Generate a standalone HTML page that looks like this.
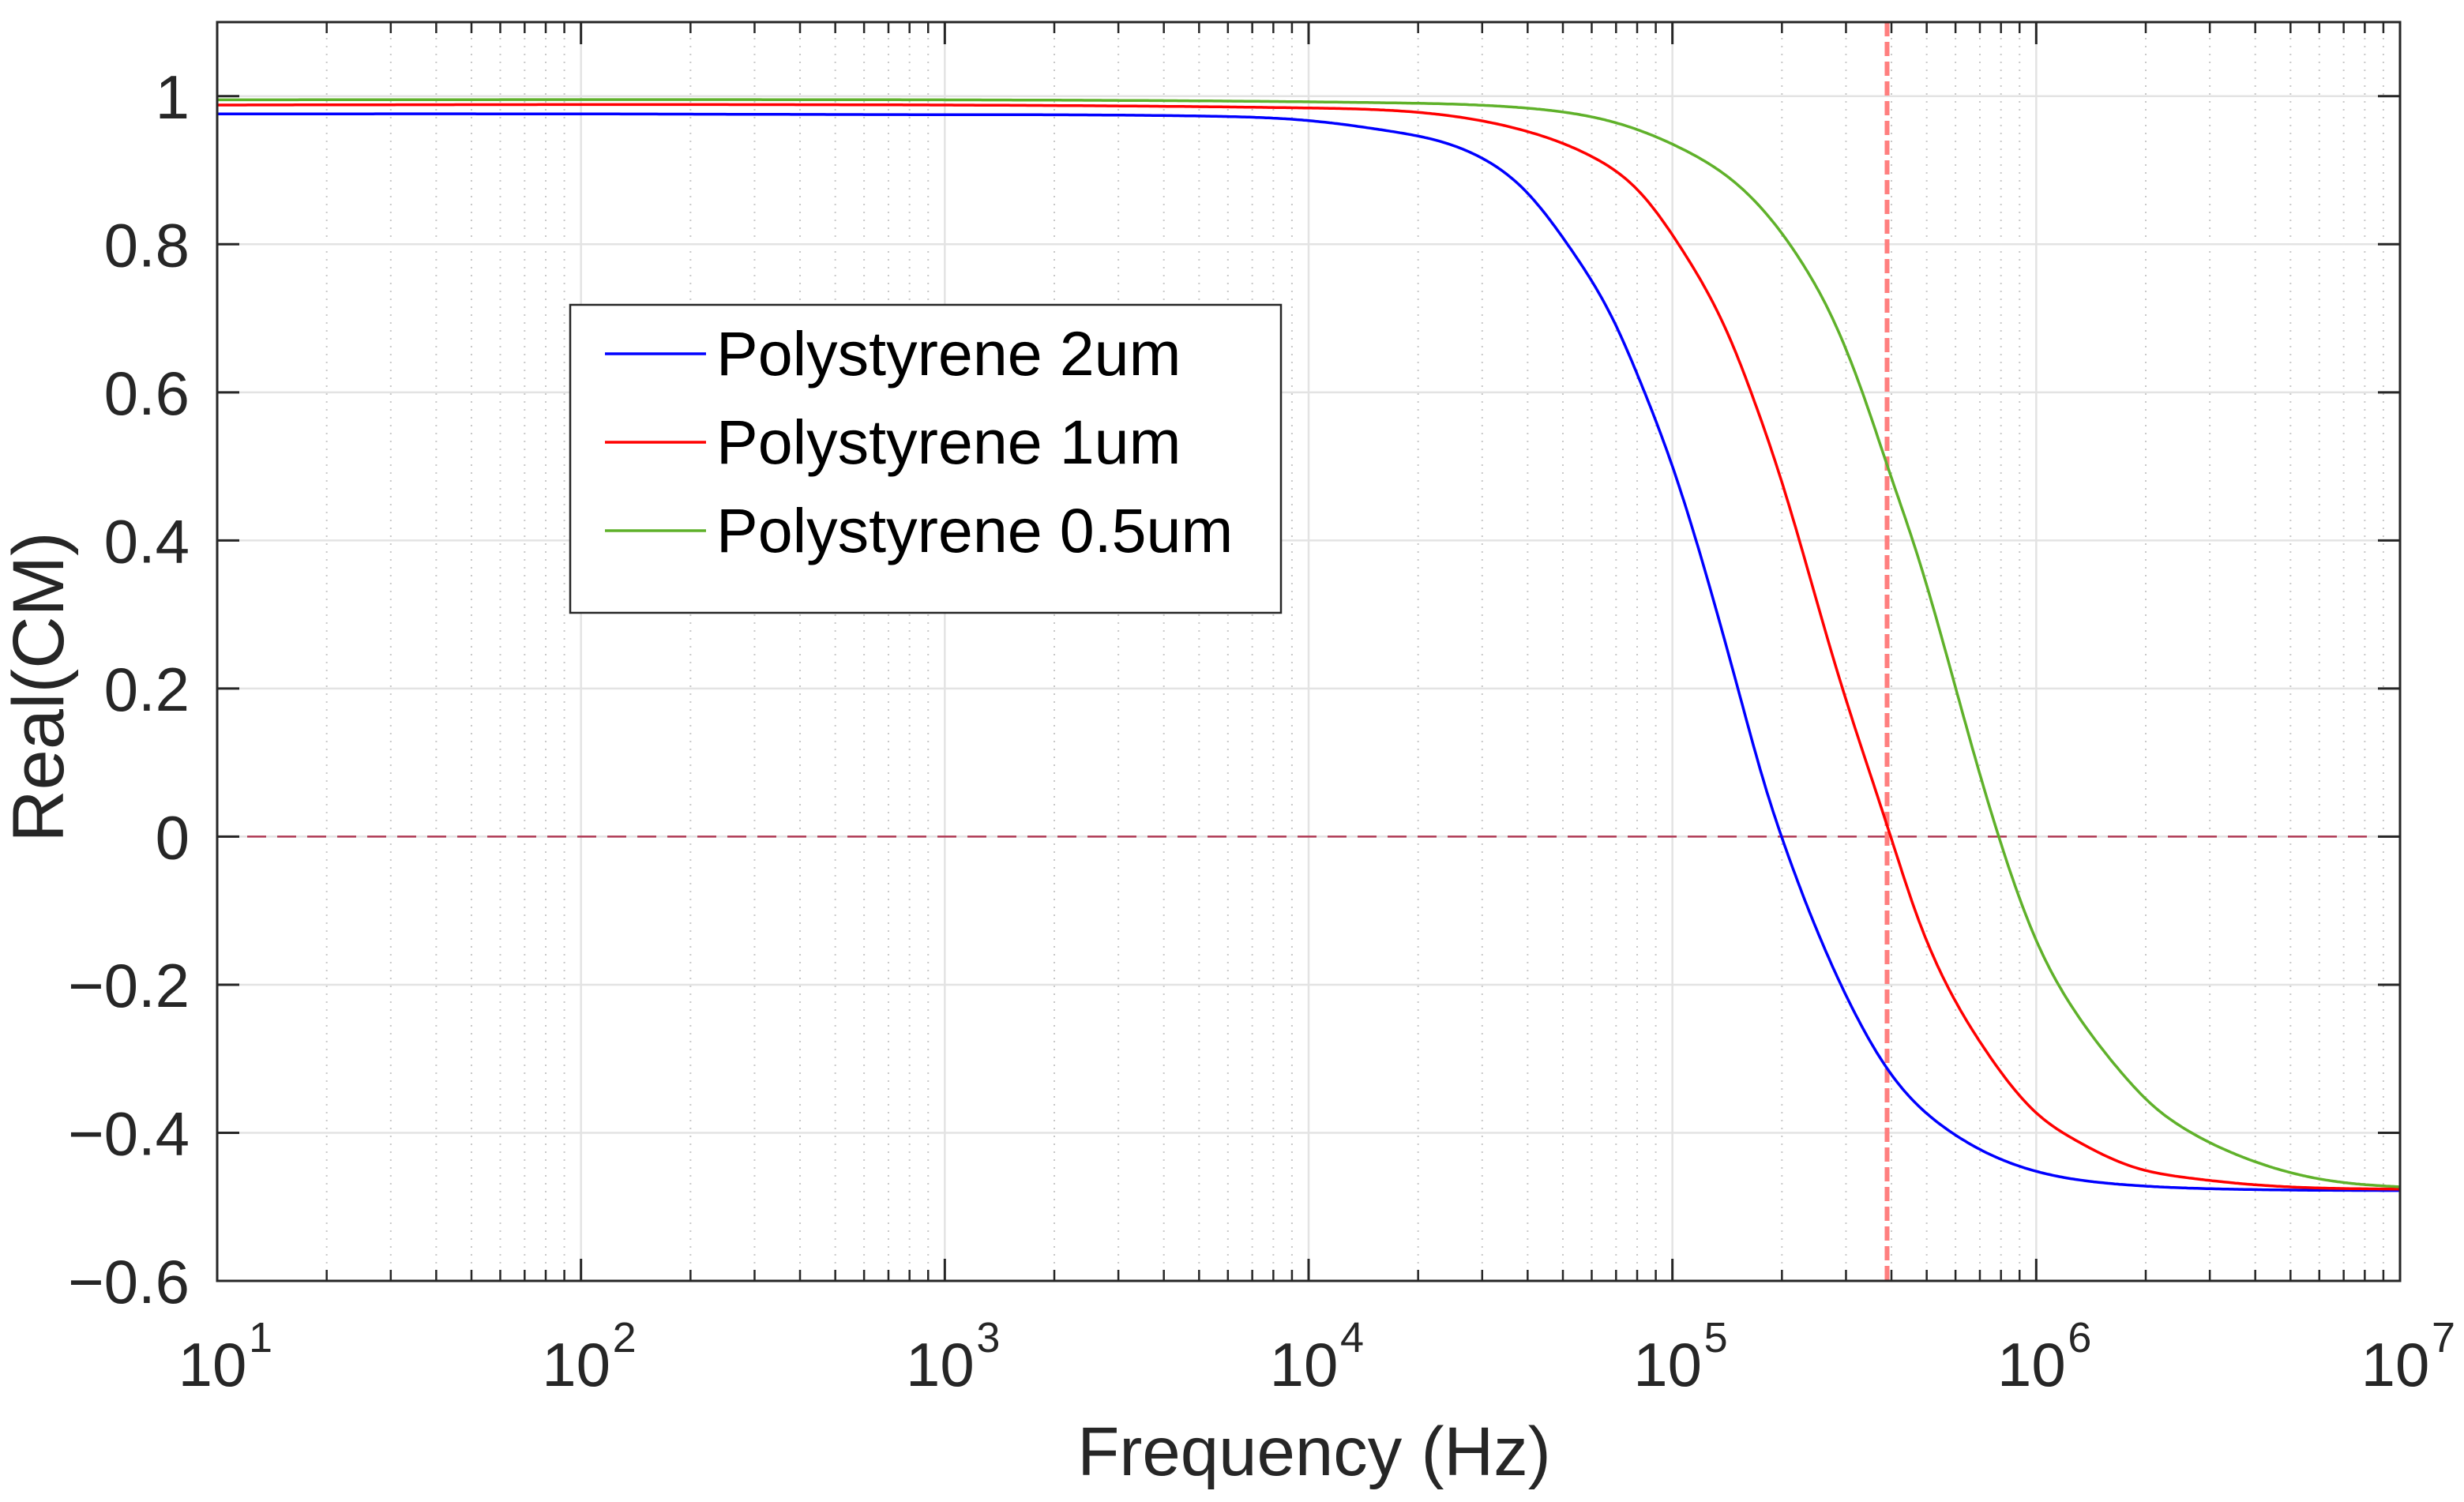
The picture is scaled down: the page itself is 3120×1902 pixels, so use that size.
<!DOCTYPE html>
<html><head><meta charset="utf-8"><style>
html,body{margin:0;padding:0;background:#fff;}
svg{display:block;font-family:"Liberation Sans",Arial,sans-serif;}
</style></head><body>
<svg id="chart" xmlns="http://www.w3.org/2000/svg" width="3120" height="1902" viewBox="0 0 3120 1902">
<rect width="3120" height="1902" fill="#fff"/>
<g id="grid"></g>
<g id="refs"></g>
<g id="series"></g>
<g id="axes"></g>
<g id="legend"></g>
<text x="1664" y="1868" font-size="87" fill="#262626" text-anchor="middle">Frequency (Hz)</text>
<text transform="translate(80,870) rotate(-90)" font-size="92" fill="#262626" text-anchor="middle">Real(CM)</text>
</svg>
<script>
const blueLog = [1,2,3,3.72,4.0,4.22,4.346,4.47,4.596,4.72,4.845,4.907,5.0,5.095,5.18,5.26,5.30,5.396,5.498,5.60,5.754,6.0,6.216,6.52,7];
const blueVal = [0.976,0.976,0.975,0.973,0.967,0.953,0.941,0.918,0.872,0.794,0.69,0.62,0.50,0.35,0.20,0.06,0,-0.125,-0.235,-0.32,-0.395,-0.452,-0.469,-0.476,-0.478];
const redLog = [1,3,4,4.346,4.596,4.78,4.907,5.03,5.156,5.22,5.30,5.37,5.455,5.54,5.60,5.671,5.754,5.856,6.0,6.112,6.266,6.42,6.624,7];
const redVal = [0.988,0.988,0.984,0.976,0.953,0.918,0.872,0.79,0.675,0.595,0.48,0.364,0.22,0.09,0,-0.105,-0.20,-0.285,-0.373,-0.411,-0.446,-0.461,-0.471,-0.476];
const greenLog = [1,3,4.22,4.596,4.845,5.03,5.18,5.26,5.36,5.44,5.54,5.59,5.68,5.77,5.856,5.897,6.0,6.112,6.216,6.318,6.42,6.574,6.726,6.88,7];
const greenVal = [0.995,0.995,0.991,0.984,0.964,0.928,0.88,0.84,0.772,0.700,0.575,0.502,0.37,0.216,0.066,0,-0.140,-0.240,-0.308,-0.362,-0.398,-0.434,-0.457,-0.469,-0.473];
const seriesNames = ["Polystyrene 2um","Polystyrene 1um","Polystyrene 0.5um"];
const yTicks = [-0.6,-0.4,-0.2,0,0.2,0.4,0.6,0.8,1];
const yTickLabels = ["\u22120.6","\u22120.4","\u22120.2","0","0.2","0.4","0.6","0.8","1"];
const xDecades = [1,2,3,4,5,6,7];
const markerFreqLog = [5.59];

const L=275,R=3039,T=28,B=1622;
const xMin=1,xMax=7,yMin=-0.6,yMax=1.1;
const NS="http://www.w3.org/2000/svg";
function X(lf){return L+(lf-xMin)/(xMax-xMin)*(R-L);}
function Y(v){return B-(v-yMin)/(yMax-yMin)*(B-T);}
function mk(tag,attrs,parent){const e=document.createElementNS(NS,tag);for(const k in attrs)e.setAttribute(k,attrs[k]);parent.appendChild(e);return e;}
const grid=document.getElementById('grid'),axes=document.getElementById('axes'),ser=document.getElementById('series'),refs=document.getElementById('refs'),leg=document.getElementById('legend');

for(let d=xMin; d<xMax; d++){
  for(let m=2;m<=9;m++){
    const x=X(d+Math.log10(m));
    const l=mk('line',{x1:x,x2:x,y1:T,y2:B,stroke:'#c8c8c8','stroke-width':2,'stroke-dasharray':'2,8'},grid);
    
    
    const t1=mk('line',{x1:x,x2:x,y1:B,y2:B-14,stroke:'#262626','stroke-width':2.5},axes);
    
    
    const t2=mk('line',{x1:x,x2:x,y1:T,y2:T+14,stroke:'#262626','stroke-width':2.5},axes);
    
    
  }
}
xDecades.forEach(d=>{
  const x=X(d);
  const l=mk('line',{x1:x,x2:x,y1:T,y2:B,stroke:'#e3e3e3','stroke-width':2.5},grid);
  
  
  mk('line',{x1:x,x2:x,y1:B,y2:B-28,stroke:'#262626','stroke-width':3},axes);
  mk('line',{x1:x,x2:x,y1:T,y2:T+28,stroke:'#262626','stroke-width':3},axes);
  const t=mk('text',{x:x-6,y:1755,'font-size':78,fill:'#262626','text-anchor':'middle'},axes);
  
  
  t.textContent='10';
  const s=mk('text',{x:x+40,y:1712,'font-size':54,fill:'#262626'},axes);
  
  
  s.textContent=String(d);
});
yTicks.forEach((v,i)=>{
  const y=Y(v);
  const l=mk('line',{x1:L,x2:R,y1:y,y2:y,stroke:'#e3e3e3','stroke-width':2.5},grid);
  
  
  mk('line',{x1:L,x2:L+28,y1:y,y2:y,stroke:'#262626','stroke-width':3},axes);
  mk('line',{x1:R,x2:R-28,y1:y,y2:y,stroke:'#262626','stroke-width':3},axes);
  const t=mk('text',{x:240,y:y+28,'font-size':78,fill:'#262626','text-anchor':'end'},axes);
  
  
  t.textContent=yTickLabels[i];
});
const box=mk('rect',{x:L,y:T,width:R-L,height:B-T,fill:'none',stroke:'#262626','stroke-width':3},axes);



const zl=mk('line',{x1:L,x2:R,y1:Y(0),y2:Y(0),stroke:'#b03a55','stroke-width':2.5,'stroke-dasharray':'24,14'},refs);


markerFreqLog.forEach(lf=>{
  const vl=mk('line',{x1:X(lf),x2:X(lf),y1:T,y2:B,stroke:'#ff7f7f','stroke-width':6,'stroke-dasharray':'18,7'},refs);
  
  
});

function splinePath(xs,ys){
  const n=xs.length, h=[], a=new Array(n).fill(0), b=new Array(n).fill(0), c=new Array(n).fill(0), r=new Array(n).fill(0);
  for(let i=0;i<n-1;i++) h.push(xs[i+1]-xs[i]);
  b[0]=1; b[n-1]=1;
  for(let i=1;i<n-1;i++){
    a[i]=h[i-1]; b[i]=2*(h[i-1]+h[i]); c[i]=h[i];
    r[i]=6*((ys[i+1]-ys[i])/h[i]-(ys[i]-ys[i-1])/h[i-1]);
  }
  const cp=new Array(n).fill(0), rp=new Array(n).fill(0), M=new Array(n).fill(0);
  cp[0]=c[0]/b[0]; rp[0]=r[0]/b[0];
  for(let i=1;i<n;i++){const den=b[i]-a[i]*cp[i-1]; cp[i]=c[i]/den; rp[i]=(r[i]-a[i]*rp[i-1])/den;}
  M[n-1]=rp[n-1];
  for(let i=n-2;i>=0;i--) M[i]=rp[i]-cp[i]*M[i+1];
  let d='';
  for(let i=0;i<n-1;i++){
    const steps=Math.max(2,Math.ceil((X(xs[i+1])-X(xs[i]))/3));
    for(let k=(i===0?0:1);k<=steps;k++){
      const t=xs[i]+h[i]*k/steps;
      const A=(xs[i+1]-t)/h[i], Bc=(t-xs[i])/h[i];
      const v=A*ys[i]+Bc*ys[i+1]+((A*A*A-A)*M[i]+(Bc*Bc*Bc-Bc)*M[i+1])*h[i]*h[i]/6;
      d+=(d?' L':'M')+X(t).toFixed(1)+','+Y(v).toFixed(1);
    }
  }
  return d;
}
const colors=['#0000ff','#ff0000','#5fb12a'];
const data=[[blueLog,blueVal],[redLog,redVal],[greenLog,greenVal]];
const snames=['series-2um','series-1um','series-0-5um'];
data.forEach((s,i)=>{
  const p=mk('path',{d:splinePath(s[0],s[1]),fill:'none',stroke:colors[i],'stroke-width':3.5,'stroke-linejoin':'round'},ser);
  
  
});

const lb=mk('rect',{x:722,y:386,width:900,height:390,fill:'#fff',stroke:'#262626','stroke-width':2.5},leg);


seriesNames.forEach((n,i)=>{
  const y=448+i*112;
  const ln=mk('line',{x1:766,x2:894,y1:y,y2:y,stroke:colors[i],'stroke-width':3.5},leg);
  
  
  const t=mk('text',{x:907,y:y+27,'font-size':79,fill:'#000'},leg);
  
  
  t.textContent=n;
});
</script>
</body></html>
